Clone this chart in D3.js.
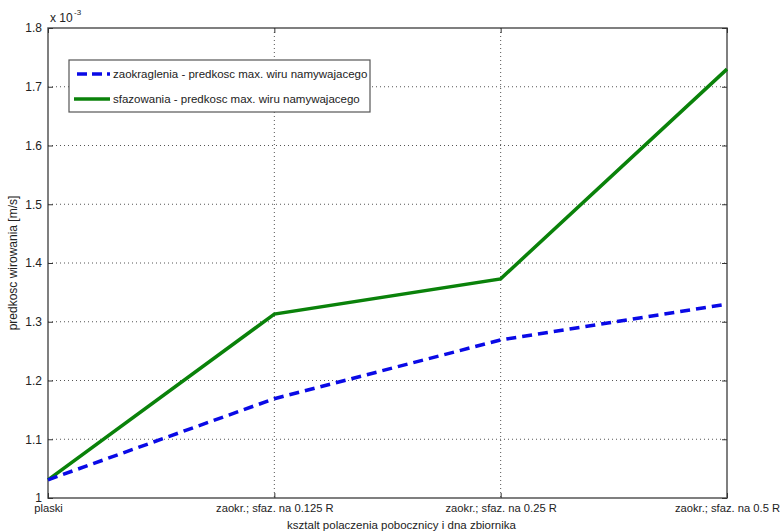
<!DOCTYPE html>
<html>
<head>
<meta charset="utf-8">
<script src="https://cdn.jsdelivr.net/npm/d3@7"></script>
<style>
  body { margin: 0; background: #fff; }
  text { font-family: "Liberation Sans", Arial, sans-serif; fill: #222; }
</style>
</head>
<body>
<svg id="chart" width="782" height="531"></svg>
<script>
var categories = ["plaski", "zaokr.; sfaz. na 0.125 R", "zaokr.; sfaz. na 0.25 R", "zaokr.; sfaz. na 0.5 R"];
var zaokraglenia = [1.031, 1.169, 1.269, 1.330];
var sfazowania = [1.031, 1.313, 1.373, 1.730];
var yTicks = [1, 1.1, 1.2, 1.3, 1.4, 1.5, 1.6, 1.7, 1.8];
var seriesNames = ["zaokraglenia - predkosc max. wiru namywajacego", "sfazowania - predkosc max. wiru namywajacego"];

var dimensions = {
    width: 782,
    height: 531,
    margin: { top: 28, bottom: 33, left: 48, right: 55 }
};

var svg = d3.select("#chart");

var xScale = d3.scalePoint()
    .domain(categories)
    .range([dimensions.margin.left, dimensions.width - dimensions.margin.right]);

var yScale = d3.scaleLinear()
    .domain([1, 1.8])
    .range([dimensions.height - dimensions.margin.bottom, dimensions.margin.top]);

var plotLeft = dimensions.margin.left,
    plotRight = dimensions.width - dimensions.margin.right,
    plotTop = dimensions.margin.top,
    plotBottom = dimensions.height - dimensions.margin.bottom;

// grid
var grid = svg.append("g");
grid.selectAll(".hg")
    .data(yTicks.slice(1, -1))
    .enter().append("line")
    .attr("x1", plotLeft).attr("x2", plotRight)
    .attr("y1", d => yScale(d)).attr("y2", d => yScale(d))
    .attr("stroke", "#555").attr("stroke-width", 1)
    .attr("stroke-dasharray", "1,3");
grid.selectAll(".vg")
    .data(categories.slice(1, -1))
    .enter().append("line")
    .attr("x1", d => xScale(d)).attr("x2", d => xScale(d))
    .attr("y1", plotTop).attr("y2", plotBottom)
    .attr("stroke", "#555").attr("stroke-width", 1)
    .attr("stroke-dasharray", "1,3");

// box
svg.append("rect")
    .attr("x", plotLeft).attr("y", plotTop)
    .attr("width", plotRight - plotLeft).attr("height", plotBottom - plotTop)
    .attr("fill", "none").attr("stroke", "#555").attr("stroke-width", 1.5);

// axes
var xAxis = svg.append("g")
    .attr("transform", `translate(0,${plotBottom})`)
    .call(d3.axisBottom(xScale).tickSizeInner(-5).tickSizeOuter(0).tickPadding(6));
var xAxisTop = svg.append("g")
    .attr("transform", `translate(0,${plotTop})`)
    .call(d3.axisTop(xScale).tickSizeInner(-5).tickSizeOuter(0).tickFormat(""));
var yAxis = svg.append("g")
    .attr("transform", `translate(${plotLeft},0)`)
    .call(d3.axisLeft(yScale).tickValues(yTicks).tickSizeInner(-5).tickSizeOuter(0).tickPadding(6).tickFormat(d3.format("~g")));
var yAxisRight = svg.append("g")
    .attr("transform", `translate(${plotRight},0)`)
    .call(d3.axisRight(yScale).tickValues(yTicks).tickSizeInner(-5).tickSizeOuter(0).tickFormat(""));

[xAxis, xAxisTop, yAxis, yAxisRight].forEach(a => {
    a.select(".domain").remove();
    a.selectAll(".tick line").attr("stroke", "#333");
    a.selectAll("text").style("font-size", "12px").attr("fill", "#222");
});
xAxis.selectAll("text").style("font-size", "11.2px");

svg.append("text")
    .attr("x", 50).attr("y", 22)
    .style("font-size", "12px")
    .text("x 10");
svg.append("text")
    .attr("x", 74).attr("y", 15)
    .style("font-size", "8px")
    .text("-3");

// labels
svg.append("text")
    .attr("x", (plotLeft + plotRight) / 2 + 14)
    .attr("y", 529)
    .style("text-anchor", "middle")
    .style("font-size", "11.5px")
    .text("ksztalt polaczenia pobocznicy i dna zbiornika");
svg.append("text")
    .attr("transform", "rotate(-90)")
    .attr("x", -263).attr("y", 17)
    .style("text-anchor", "middle")
    .style("font-size", "12px")
    .text("predkosc wirowania [m/s]");

// lines
var line = d3.line()
    .x((d, i) => xScale(categories[i]))
    .y(d => yScale(d));

svg.append("path")
    .datum(sfazowania)
    .attr("d", line)
    .attr("fill", "none")
    .attr("stroke", "#0a820a")
    .attr("stroke-width", 3.5);

svg.append("path")
    .datum(zaokraglenia)
    .attr("d", line)
    .attr("fill", "none")
    .attr("stroke", "#0a0ae6")
    .attr("stroke-width", 3.5)
    .attr("stroke-dasharray", "10,6");

// legend
var legend = svg.append("g").attr("transform", "translate(69,60)");
legend.append("rect")
    .attr("width", 301).attr("height", 52)
    .attr("fill", "#fff").attr("stroke", "#555").attr("stroke-width", 1.2);
var styles = [
    { color: "#0a0ae6", dash: "10,5" },
    { color: "#0a820a", dash: null }
];
seriesNames.forEach((name, i) => {
    var g = legend.append("g").attr("transform", `translate(0,${14 + i * 25})`);
    g.append("line")
        .attr("x1", i === 0 ? 8 : 5).attr("x2", 41)
        .attr("stroke", styles[i].color)
        .attr("stroke-width", 3.5)
        .attr("stroke-dasharray", styles[i].dash);
    g.append("text")
        .attr("x", 44).attr("y", 4)
        .style("font-size", "11.5px")
        .text(name);
});
</script>
</body>
</html>
